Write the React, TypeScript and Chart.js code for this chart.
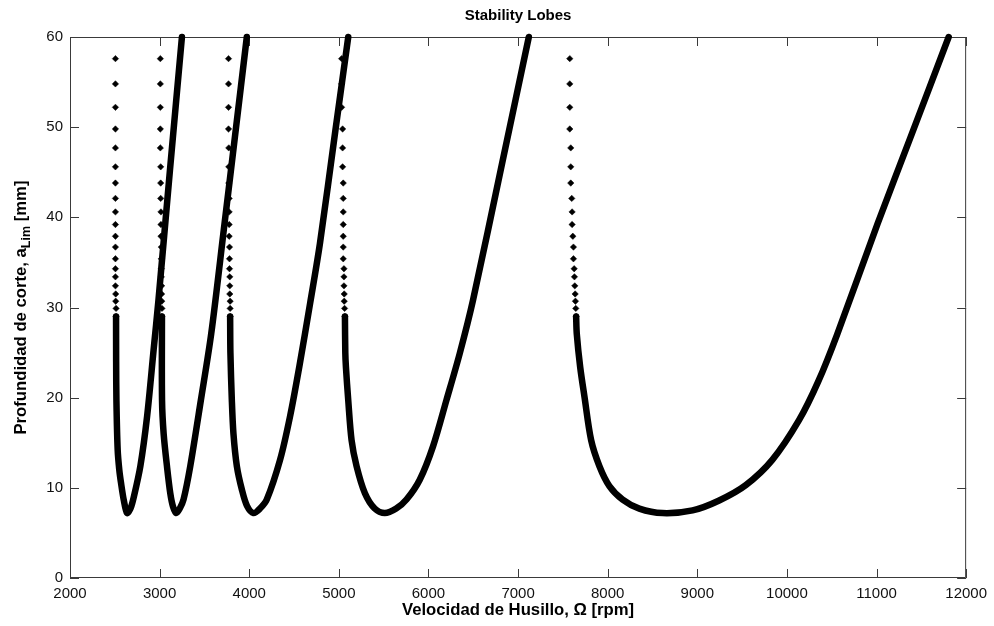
import React, { useEffect, useRef } from "react";
import { Chart, registerables } from "chart.js";

Chart.register(...registerables);

// ---- axis ticks ----
const xTicks = [2000, 3000, 4000, 5000, 6000, 7000, 8000, 9000, 10000, 11000, 12000];
const yTicks = [0, 10, 20, 30, 40, 50, 60];

// ---- sparse upper points of the left branches (shared depth levels, mm) ----
const dotDepths = [57.6, 54.8, 52.2, 49.8, 47.7, 45.6, 43.8, 42.1, 40.6, 39.2, 37.9, 36.7, 35.4, 34.3, 33.4, 32.4, 31.5, 30.7, 29.9, 29.0];
const lobe1DotsRpm = [2507, 2507, 2507, 2507, 2507, 2507, 2507, 2507, 2507, 2507, 2507, 2507, 2507, 2507, 2507, 2507, 2510, 2510, 2514, 2514];
const lobe2DotsRpm = [3008, 3008, 3008, 3008, 3008, 3012, 3012, 3012, 3015, 3015, 3015, 3019, 3019, 3019, 3019, 3022, 3022, 3024, 3026, 3026];
const lobe3DotsRpm = [3769, 3769, 3769, 3769, 3772, 3772, 3772, 3776, 3776, 3776, 3776, 3780, 3780, 3780, 3783, 3783, 3783, 3787, 3787, 3787];
const lobe4DotsRpm = [5031, 5031, 5031, 5042, 5042, 5042, 5049, 5049, 5049, 5049, 5049, 5049, 5049, 5057, 5057, 5057, 5060, 5060, 5064, 5068];
const lobe5DotsRpm = [7577, 7577, 7577, 7577, 7588, 7588, 7588, 7599, 7603, 7603, 7611, 7618, 7618, 7626, 7629, 7633, 7637, 7640, 7644, 7648];

// ---- dense part of each lobe (lower left branch -> minimum -> right branch) ----
const lobe1Rpm = [2514, 2515, 2518, 2532, 2550, 2570, 2599, 2637, 2675, 2710, 2785, 2860, 2933, 2987, 3115, 3249];
const lobe1Depth = [29.0, 24.0, 19.7, 14.2, 12.0, 10.5, 8.7, 7.2, 7.7, 8.9, 12.4, 17.9, 25.3, 30.8, 45.2, 60.0];

const lobe2Rpm = [3026, 3027, 3045, 3082, 3119, 3150, 3186, 3225, 3267, 3342, 3460, 3576, 3716, 3840, 3973];
const lobe2Depth = [29.0, 19.7, 16.0, 12.4, 9.4, 7.9, 7.2, 7.7, 8.7, 12.4, 19.7, 27.1, 38.6, 48.9, 60.0];

const lobe3Rpm = [3787, 3790, 3806, 3824, 3862, 3918, 3975, 4047, 4120, 4196, 4344, 4455, 4560, 4680, 4789, 4961, 5105];
const lobe3Depth = [29.0, 25.0, 19.7, 16.0, 12.4, 9.8, 8.0, 7.2, 7.7, 8.7, 13.1, 17.9, 23.5, 30.5, 37.1, 49.6, 60.0];

const lobe4Rpm = [5068, 5072, 5079, 5105, 5142, 5198, 5291, 5400, 5513, 5640, 5755, 5903, 6051, 6200, 6349, 6497, 6822, 7120];
const lobe4Depth = [29.0, 25.0, 23.4, 19.7, 15.3, 12.4, 9.4, 7.7, 7.2, 7.7, 8.7, 10.9, 14.6, 19.7, 24.9, 30.8, 46.0, 60.0];

const lobe5Rpm = [7648, 7655, 7693, 7741, 7815, 7908, 8019, 8167, 8353, 8612, 8947, 9244, 9541, 9837, 10135, 10350, 10560, 11012, 11380, 11805];
const lobe5Depth = [29.0, 27.1, 23.4, 20.1, 15.3, 12.4, 10.2, 8.7, 7.7, 7.2, 7.5, 8.6, 10.3, 13.1, 17.5, 21.8, 27.0, 39.3, 48.9, 60.0];

const titleText = "Stability Lobes";
const xLabel = "Velocidad de Husillo, \u03A9 [rpm]";
const yLabelMain = "Profundidad de corte, a";
const yLabelSub = "Lim";
const yLabelEnd = " [mm]";

const FONT = "'Liberation Sans', Arial, sans-serif";

const zip = (xs: number[], ys: number[]) => xs.map((x, i) => ({ x, y: ys[i] }));
const dots = (xs: number[]) => ({
  data: zip(xs, dotDepths),
  showLine: false,
  pointStyle: "rectRot" as const,
  pointRadius: 3.2,
  pointBackgroundColor: "#000",
  pointBorderColor: "#000",
  pointBorderWidth: 0.5,
  clip: false as const,
});
const curve = (xs: number[], ys: number[]) => ({
  data: zip(xs, ys),
  showLine: true,
  pointRadius: 0,
  borderColor: "#000",
  borderWidth: 6.5,
  borderCapStyle: "round" as const,
  borderJoinStyle: "round" as const,
  tension: 0.3,
  clip: false as const,
});

const framePlugin = {
  id: "matlabFrame",
  beforeDatasetsDraw(chart: any) {
    const { ctx, chartArea: a, scales } = chart;
    ctx.save();
    ctx.strokeStyle = "#3a3a3a";
    ctx.lineWidth = 1;
    ctx.beginPath();
    ctx.rect(a.left + 0.5, a.top + 0.5, a.right - a.left - 1, a.bottom - a.top - 1);
    xTicks.forEach((v) => {
      const x = Math.round(scales.x.getPixelForValue(v)) + 0.5;
      ctx.moveTo(x, a.bottom);
      ctx.lineTo(x, a.bottom - 9);
      ctx.moveTo(x, a.top);
      ctx.lineTo(x, a.top + 9);
    });
    yTicks.forEach((v) => {
      const y = Math.round(scales.y.getPixelForValue(v)) + 0.5;
      ctx.moveTo(a.left, y);
      ctx.lineTo(a.left + 9, y);
      ctx.moveTo(a.right, y);
      ctx.lineTo(a.right - 9, y);
    });
    ctx.stroke();
    ctx.restore();
  },
  afterDraw(chart: any) {
    const { ctx, chartArea: a } = chart;
    const cx = (a.left + a.right) / 2;
    const cy = (a.top + a.bottom) / 2;
    ctx.save();
    ctx.fillStyle = "#000";
    // title
    ctx.font = `bold 15px ${FONT}`;
    ctx.textAlign = "center";
    ctx.textBaseline = "alphabetic";
    ctx.fillText(titleText, cx, 20);
    // x label
    ctx.font = `bold 16.7px ${FONT}`;
    ctx.fillText(xLabel, cx, 615);
    // y label (rotated, with subscript)
    const mainFont = `bold 16.7px ${FONT}`;
    const subFont = `bold 12.5px ${FONT}`;
    ctx.font = mainFont;
    const w1 = ctx.measureText(yLabelMain).width;
    const w3 = ctx.measureText(yLabelEnd).width;
    ctx.font = subFont;
    const w2 = ctx.measureText(yLabelSub).width;
    const total = w1 + w2 + w3;
    ctx.translate(26, cy);
    ctx.rotate(-Math.PI / 2);
    ctx.textAlign = "left";
    let x0 = -total / 2;
    ctx.font = mainFont;
    ctx.fillText(yLabelMain, x0, 0);
    x0 += w1;
    ctx.font = subFont;
    ctx.fillText(yLabelSub, x0, 4);
    x0 += w2;
    ctx.font = mainFont;
    ctx.fillText(yLabelEnd, x0, 0);
    ctx.restore();
  },
};

export default function App() {
  const ref = useRef<HTMLCanvasElement>(null);
  useEffect(() => {
    const chart = new Chart(ref.current as HTMLCanvasElement, {
      type: "scatter",
      data: {
        datasets: [
          dots(lobe1DotsRpm),
          dots(lobe2DotsRpm),
          dots(lobe3DotsRpm),
          dots(lobe4DotsRpm),
          dots(lobe5DotsRpm),
          curve(lobe1Rpm, lobe1Depth),
          curve(lobe2Rpm, lobe2Depth),
          curve(lobe3Rpm, lobe3Depth),
          curve(lobe4Rpm, lobe4Depth),
          curve(lobe5Rpm, lobe5Depth),
        ] as any,
      },
      options: {
        animation: false,
        responsive: false,
        maintainAspectRatio: false,
        devicePixelRatio: 1,
        layout: { padding: { left: 0, top: 37, right: 25, bottom: 0 } },
        plugins: {
          legend: { display: false },
          tooltip: { enabled: false },
          title: { display: false },
        },
        scales: {
          x: {
            type: "linear",
            min: 2000,
            max: 12000,
            afterFit: (s: any) => {
              s.height = 48;
            },
            afterBuildTicks: (s: any) => {
              s.ticks = xTicks.map((v) => ({ value: v }));
            },
            grid: { display: false, drawTicks: false },
            border: { display: false },
            ticks: {
              autoSkip: false,
              maxRotation: 0,
              padding: 7,
              color: "#111",
              font: { family: FONT, size: 15 },
              callback: (v: any) => String(v),
            },
          },
          y: {
            type: "linear",
            min: 0,
            max: 60,
            afterFit: (s: any) => {
              s.width = 70;
            },
            afterBuildTicks: (s: any) => {
              s.ticks = yTicks.map((v) => ({ value: v }));
            },
            grid: { display: false, drawTicks: false },
            border: { display: false },
            ticks: {
              autoSkip: false,
              padding: 7,
              color: "#111",
              font: { family: FONT, size: 15 },
              callback: (v: any) => String(v),
            },
          },
        },
      },
      plugins: [framePlugin],
    });
    return () => chart.destroy();
  }, []);
  return (
    <div style={{ position: "fixed", left: 0, top: 0, width: 994, height: 626, background: "#fff" }}>
      <canvas ref={ref} width={994} height={626} style={{ display: "block", width: 994, height: 626 }} />
    </div>
  );
}
